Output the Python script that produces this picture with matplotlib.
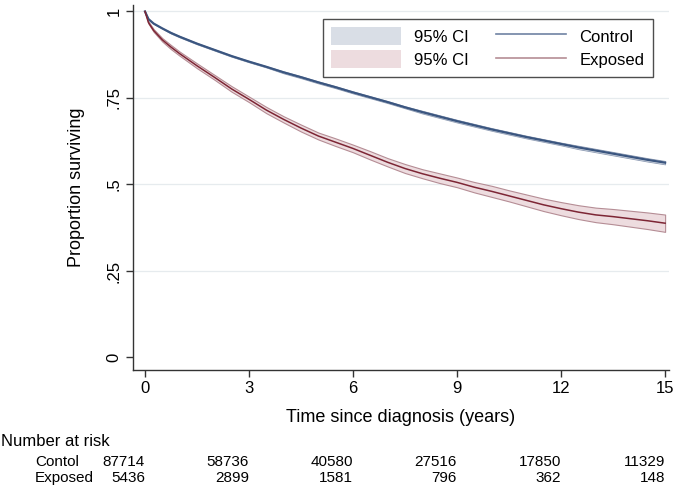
import matplotlib.pyplot as plt
import matplotlib.transforms as mtransforms
from matplotlib.patches import Patch
from matplotlib.lines import Line2D

plt.rcParams['font.family'] = ['Liberation Sans', 'DejaVu Sans']

# survival estimates
t = [0, 0.1, 0.25, 0.5, 0.75, 1, 1.5, 2, 2.5, 3, 3.5, 4, 4.5, 5, 5.5, 6,
     6.5, 7, 7.5, 8, 8.5, 9, 9.5, 10, 10.5, 11, 11.5, 12, 12.5, 13, 13.5,
     14, 14.5, 15]
control = [1.0, 0.978, 0.965, 0.951, 0.938, 0.927, 0.907, 0.889, 0.871,
           0.855, 0.840, 0.824, 0.810, 0.795, 0.781, 0.766, 0.752, 0.738,
           0.723, 0.709, 0.696, 0.683, 0.671, 0.659, 0.648, 0.637, 0.627,
           0.617, 0.607, 0.598, 0.589, 0.580, 0.571, 0.563]
control_ci = [0.0, 0.001, 0.001, 0.001, 0.002, 0.002, 0.002, 0.002, 0.002,
              0.002, 0.002, 0.003, 0.003, 0.003, 0.003, 0.003, 0.003, 0.003,
              0.003, 0.004, 0.004, 0.004, 0.004, 0.004, 0.004, 0.004, 0.004,
              0.004, 0.005, 0.005, 0.005, 0.005, 0.005, 0.005]
exposed = [1.0, 0.968, 0.945, 0.918, 0.897, 0.878, 0.843, 0.810, 0.776,
           0.746, 0.715, 0.688, 0.663, 0.640, 0.622, 0.604, 0.584, 0.564,
           0.546, 0.531, 0.518, 0.506, 0.492, 0.480, 0.467, 0.454, 0.441,
           0.430, 0.420, 0.412, 0.407, 0.401, 0.395, 0.388]
exposed_ci = [0.0, 0.003, 0.004, 0.005, 0.006, 0.006, 0.007, 0.007, 0.008,
              0.008, 0.009, 0.009, 0.010, 0.010, 0.011, 0.011, 0.012, 0.012,
              0.013, 0.013, 0.014, 0.014, 0.015, 0.016, 0.016, 0.017, 0.018,
              0.019, 0.020, 0.021, 0.022, 0.023, 0.024, 0.025]

risk_times = [0, 3, 6, 9, 12, 15]
risk_control = [87714, 58736, 40580, 27516, 17850, 11329]
risk_exposed = [5436, 2899, 1581, 796, 362, 148]

blue = '#3b5680'
red = '#7d2635'

fig = plt.figure(figsize=(6.75, 4.88), dpi=100)
ax = fig.add_axes([0.197, 0.242, 0.794, 0.748])

for ys in (0.25, 0.5, 0.75, 1.0):
    ax.axhline(ys, color='#e6ebee', lw=0.9, zorder=0)

lo = [s - c for s, c in zip(control, control_ci)]
hi = [s + c for s, c in zip(control, control_ci)]
ax.fill_between(t, lo, hi, color='#d9dee6', edgecolor='#8e9cb4', lw=0.6, zorder=2)
ax.plot(t, control, color=blue, lw=1.6, zorder=3)

lo = [s - c for s, c in zip(exposed, exposed_ci)]
hi = [s + c for s, c in zip(exposed, exposed_ci)]
ax.fill_between(t, lo, hi, color='#eddcdf', edgecolor='#b58d95', lw=0.8, zorder=2)
ax.plot(t, exposed, color=red, lw=1.1, zorder=3)

ax.set_xlim(-0.346, 15.11)
ax.set_ylim(-0.036, 1.019)
ax.spines['top'].set_visible(False)
ax.spines['right'].set_visible(False)
for s in ('left', 'bottom'):
    ax.spines[s].set_color('#333333')
    ax.spines[s].set_linewidth(1.0)

ax.set_xticks(risk_times)
ax.set_yticks([0, 0.25, 0.5, 0.75, 1])
ax.set_yticklabels(['0', '.25', '.5', '.75', '1'], rotation=90, va='center')
ax.tick_params(axis='both', labelsize=12, length=5, width=1, color='#333333', pad=3)
ax.set_xlabel('Time since diagnosis (years)', fontsize=13, labelpad=9)
ax.set_ylabel('Proportion surviving', fontsize=13, labelpad=16)

handles = [Patch(facecolor='#d9dee6', edgecolor='none'),
           Patch(facecolor='#eddcdf', edgecolor='none'),
           Line2D([], [], color='#6f83a3', lw=1.2),
           Line2D([], [], color='#b58d95', lw=1.2)]
labels = ['95% CI', '95% CI', 'Control', 'Exposed']
leg = ax.legend(handles, labels, ncol=2, loc='upper right',
                bbox_to_anchor=(0.985, 0.985), fontsize=12, frameon=True,
                fancybox=False, handlelength=4.2, handleheight=1.3,
                columnspacing=1.6, handletextpad=0.8, labelspacing=0.3,
                borderpad=0.5)
leg.get_frame().set_edgecolor('#222222')
leg.get_frame().set_linewidth(1.0)

# number at risk table
trans = mtransforms.blended_transform_factory(ax.transData, fig.transFigure)
fig.text(0.002, 1 - 442 / 488, 'Number at risk', fontsize=12, va='center')
fig.text(35 / 675, 1 - 462 / 488, 'Contol', fontsize=11, va='center')
fig.text(35 / 675, 1 - 478 / 488, 'Exposed', fontsize=11, va='center')
for x, a, b in zip(risk_times, risk_control, risk_exposed):
    ax.text(x, 1 - 462 / 488, str(a), transform=trans, ha='right', va='center', fontsize=11)
    ax.text(x, 1 - 478 / 488, str(b), transform=trans, ha='right', va='center', fontsize=11)

fig.savefig('out.png', dpi=100)
